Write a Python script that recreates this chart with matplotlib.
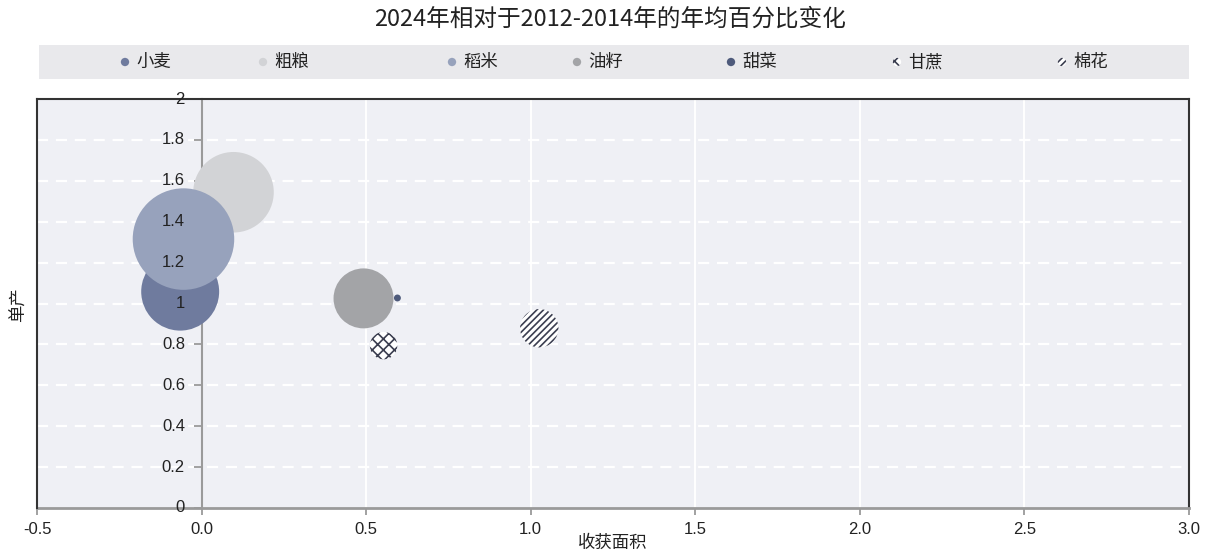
import numpy as np
import matplotlib
matplotlib.use("Agg")
import matplotlib.pyplot as plt

# fonts: CJK for the labels, a narrow sans for the numbers
cjk = ['Noto Sans CJK SC', 'DejaVu Sans']
num = ['Liberation Sans Narrow', 'Liberation Sans', 'DejaVu Sans']
plt.rcParams['font.family'] = cjk
plt.rcParams['hatch.color'] = '#3b3e50'
plt.rcParams['hatch.linewidth'] = 1.2

# data: change in harvested area (x) and yield (y), bubble size
crops = ['小麦', '粗粮', '稻米', '油籽', '甜菜', '甘蔗', '棉花']
area_change = [-0.065, 0.097, -0.055, 0.492, 0.595, 0.553, 1.026]
yield_change = [1.058, 1.544, 1.315, 1.025, 1.027, 0.794, 0.879]
bubble_size = [1521, 1624, 2581, 900, 12, 188, 369]

colors = ['#6f7b9e', '#d2d3d6', '#97a2bc', '#a3a4a7', '#4e5a7b', 'white', 'white']
hatches = [None, None, None, None, None, 'xxx', '/////']

xticks = [-0.5, 0.0, 0.5, 1.0, 1.5, 2.0, 2.5, 3.0]
yticks = [0, 0.2, 0.4, 0.6, 0.8, 1, 1.2, 1.4, 1.6, 1.8, 2]

fig = plt.figure(figsize=(12.06, 5.55), dpi=100)
ax = fig.add_axes([37/1206, 1-508/555, 1152/1206, 409/555])
ax.set_facecolor('#eff0f5')
ax.set_xlim(-0.5, 3.0)
ax.set_ylim(0, 2)

# bubbles
for i in range(len(crops)):
    ax.scatter(area_change[i], yield_change[i], s=bubble_size[i]*2.07,
               facecolor=colors[i], hatch=hatches[i], edgecolors='none',
               linewidths=0, zorder=2)

# grid
for y in yticks[1:-1]:
    ax.axhline(y, color='white', lw=1.6, ls=(0, (5, 3.5)), zorder=0.5)
for x in xticks[2:-1]:
    ax.axvline(x, color='white', lw=1.4, zorder=0.5)

# axes: y axis crosses at x = 0, frame dark on the other sides
ax.spines['left'].set_position(('data', 0))
ax.spines['left'].set_color('#9a9a9a')
ax.spines['left'].set_linewidth(1.5)
ax.spines['left'].set_zorder(1)
ax.spines['bottom'].set_color('#9a9a9a')
ax.spines['bottom'].set_linewidth(2)
for s in ['top', 'right']:
    ax.spines[s].set_color('#333333')
    ax.spines[s].set_linewidth(1.5)
ax.plot([0, 0], [0, 1], transform=ax.transAxes, color='#333333', lw=1.5,
        clip_on=False, zorder=3)

ax.set_xticks(xticks)
ax.set_xticklabels(['%.1f' % v for v in xticks], fontfamily=num, fontsize=12,
                   color='#222222')
ax.tick_params(axis='x', length=5, width=1.3, color='#9a9a9a', pad=5)
ax.set_yticks(yticks)
ax.set_yticklabels([])
ax.tick_params(axis='y', length=6, width=1.3, color='#9a9a9a')
ax.yaxis.set_zorder(1)
for y in yticks:
    ax.annotate('%g' % y, xy=(0, y), xytext=(-12, 0), textcoords='offset points',
                ha='right', va='center', fontfamily=num, fontsize=12,
                color='#222222', zorder=5, annotation_clip=False)

fig.text(613/1206, 1-543/555, '收获面积', ha='center', va='center', fontsize=12.5,
         color='#222222')
fig.text(19/1206, 1-305/555, '单产', ha='center', va='center', rotation=90,
         fontsize=12.5, color='#222222')
fig.text(610/1206, 1-19/555, '2024年相对于2012-2014年的年均百分比变化',
         ha='center', va='center', fontsize=17, color='#222222')

# legend band
leg = fig.add_axes([39/1206, 1-79/555, 1150/1206, 34/555])
leg.set_facecolor('#e9e9ec')
leg.set_xlim(39, 1189)
leg.set_ylim(0, 1)
leg.set_xticks([])
leg.set_yticks([])
for s in leg.spines.values():
    s.set_visible(False)
leg_x = [125, 263, 452, 577, 731, 897, 1062]
for i in range(len(crops)):
    leg.scatter(leg_x[i], 0.5, s=36, facecolor=colors[i], hatch=hatches[i],
                edgecolors='none', linewidths=0)
    leg.text(leg_x[i] + 11, 0.5, crops[i], ha='left', va='center',
             fontsize=12.5, color='#222222')

fig.savefig('out.png', dpi=100)
